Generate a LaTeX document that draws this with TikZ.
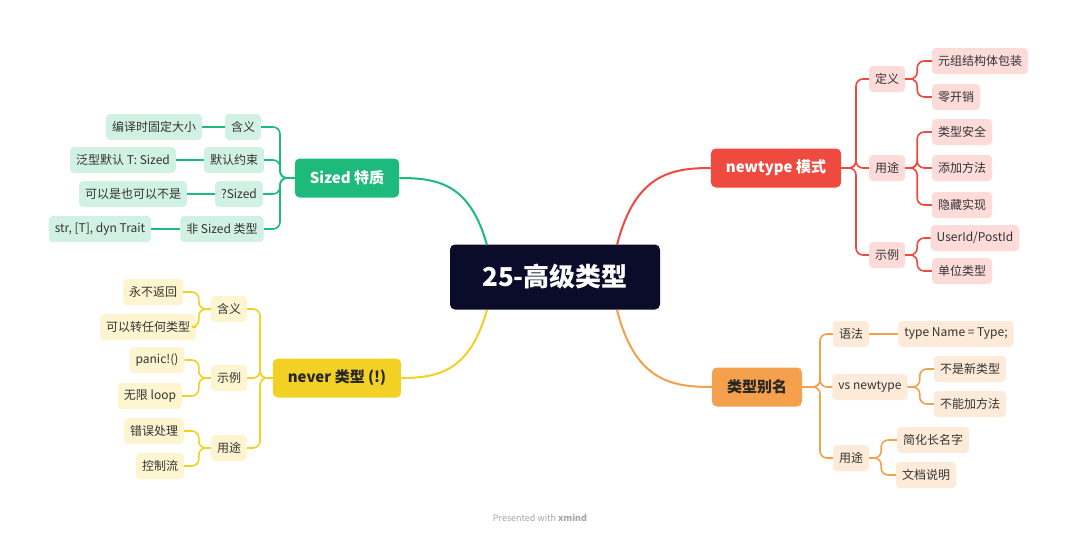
\documentclass[tikz,border=0pt]{standalone}
\usepackage{fontspec}
\setmainfont{Noto Sans CJK SC}
\usetikzlibrary{positioning,calc}
\definecolor{rootc}{HTML}{0B0B2A}
\definecolor{sizedc}{HTML}{1DBA7C}
\definecolor{neverc}{HTML}{F2D024}
\definecolor{newtc}{HTML}{EF4A3F}
\definecolor{aliasc}{HTML}{F5A04C}
\tikzset{topic/.style={
  % The shape:
  rectangle, rounded corners=5pt,
  % The size:
  minimum height=39pt, inner xsep=15pt,
  % Font:
  font=\fontsize{15}{18}\selectfont\bfseries,
  }
}
\tikzset{leaf/.style={
  % The shape:
  rectangle, rounded corners=4pt,
  minimum height=26pt, inner xsep=6pt,
  % The rest
  text=black!80, font=\fontsize{12}{14}\selectfont,
  }
}
\begin{document}
\begin{tikzpicture}[x=1pt,y=-1pt,
  link/.style={line width=1.6pt,rounded corners=7pt}]
  \useasboundingbox[fill=white] (0,0) rectangle (1080,538);
  % Root
  \node (root) [rectangle,rounded corners=5pt,fill=rootc,text=white,minimum width=210pt,minimum height=65pt,
    font=\fontsize{26}{30}\selectfont\bfseries] at (555,277) {25-高级类型};
  % Main topics
  \node (sized) [topic,fill=sizedc,text=white] at (347,178) {Sized 特质};
  \node (never) [topic,fill=neverc,text=black!85] at (337,378) {never 类型 (!)};
  \node (newt)  [topic,fill=newtc,text=white] at (776,168) {newtype 模式};
  \node (alias) [topic,fill=aliasc,text=black!85] at (757,387) {类型别名};
  \draw[sizedc,line width=2pt] (487,245) .. controls (470,185) and (440,178) .. (sized.east);
  \draw[neverc,line width=2pt] (487,310) .. controls (470,370) and (440,378) .. (never.east);
  \draw[newtc,line width=2pt] (617,245) .. controls (635,175) and (670,168) .. (newt.west);
  \draw[aliasc,line width=2pt] (617,310) .. controls (635,380) and (670,387) .. (alias.west);
  % Sized
  \begin{scope}[every node/.style={leaf,fill=sizedc!20}]
    \node (s1) at (243,127) {含义};
    \node (s2) at (234,160) {默认约束};
    \node (s3) at (239,194) {?Sized};
    \node (s4) at (222,229) {非 Sized 类型};
    \node (s1a) at (154,127) {编译时固定大小};
    \node (s2a) at (123,160) {泛型默认 T: Sized};
    \node (s3a) at (133,194) {可以是也可以不是};
    \node (s4a) at (100,229) {str, [T], dyn Trait};
  \end{scope}
  \foreach \c in {s1,s2,s3,s4}
    \draw[link,sizedc] (sized.west) -- (280,178) |- (\c.east);
  \foreach \c in {s1,s2,s3,s4}
    \draw[link,sizedc] (\c.west) -- (\c a.east);
  % never
  \begin{scope}[every node/.style={leaf,fill=neverc!22}]
    \node (n1) at (229,309) {含义};
    \node (n2) at (229,378) {示例};
    \node (n3) at (229,448) {用途};
    \node (n1a) at (153,292) {永不返回};
    \node (n1b) at (148,327) {可以转任何类型};
    \node (n2a) at (157,360) {panic!()};
    \node (n2b) at (150,396) {无限 loop};
    \node (n3a) at (154,431) {错误处理};
    \node (n3b) at (160,466) {控制流};
  \end{scope}
  \foreach \c in {n1,n2,n3}{
    \draw[link,neverc] (never.west) -- (260,378) |- (\c.east);
    \foreach \g in {a,b}
      \draw[link,neverc] (\c.west) -- ($(\c.west)+(-12,0)$) |- (\c\g.east);
  }
  % newtype
  \begin{scope}[every node/.style={leaf,fill=newtc!20}]
    \node (t1) at (887,79) {定义};
    \node (t2) at (887,168) {用途};
    \node (t3) at (887,255) {示例};
    \node (t1a) at (980,61) {元组结构体包装};
    \node (t1b) at (956,97) {零开销};
    \node (t2a) at (962,132) {类型安全};
    \node (t2b) at (962,168) {添加方法};
    \node (t2c) at (962,205) {隐藏实现};
    \node (t3a) at (975,238) {UserId/PostId};
    \node (t3b) at (962,271) {单位类型};
  \end{scope}
  \foreach \c in {t1,t2,t3}
    \draw[link,newtc] (newt.east) -- (856,168) |- (\c.west);
  \foreach \c/\g in {t1/t1a,t1/t1b,t2/t2a,t2/t2b,t2/t2c,t3/t3a,t3/t3b}
    \draw[link,newtc] (\c.east) -- ($(\c.east)+(12,0)$) |- (\g.west);
  % alias
  \begin{scope}[every node/.style={leaf,fill=aliasc!22}]
    \node (a1) at (851,334) {语法};
    \node (a2) at (870,387) {vs newtype};
    \node (a3) at (851,458) {用途};
    \node (a1a) at (956,334) {type Name = Type;};
    \node (a2a) at (970,369) {不是新类型};
    \node (a2b) at (970,404) {不能加方法};
    \node (a3a) at (933,440) {简化长名字};
    \node (a3b) at (926,475) {文档说明};
  \end{scope}
  \foreach \c in {a1,a2,a3}
    \draw[link,aliasc] (alias.east) -- (820,387) |- (\c.west);
  \draw[link,aliasc] (a1.east) -- (a1a.west);
  \foreach \c/\g in {a2/a2a,a2/a2b,a3/a3a,a3/a3b}
    \draw[link,aliasc] (\c.east) -- ($(\c.east)+(12,0)$) |- (\g.west);
  % Footer
  \node (foot) [text=black!35,font=\fontsize{9}{11}\selectfont] at (540,518) {Presented with \textbf{xmind}};
\end{tikzpicture}
\end{document}
